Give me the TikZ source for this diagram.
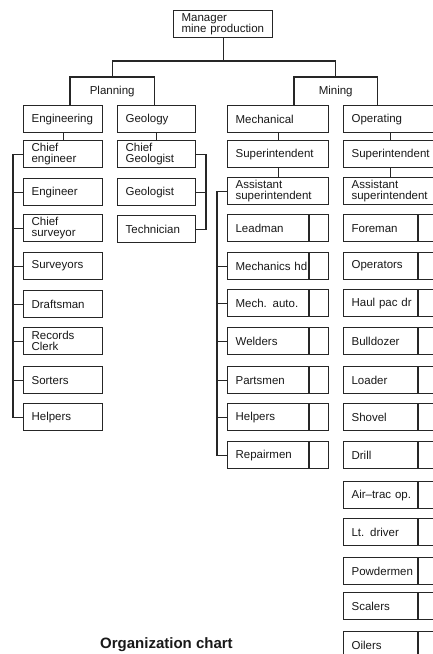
\documentclass[tikz,border=0pt]{standalone}
\usepackage{fontspec}
\setmainfont{Liberation Sans}
\begin{document}
\begin{tikzpicture}[x=1pt,y=-1pt,
  ink/.style={draw=black!85, line width=1.2pt, line join=miter},
  lbl/.style={font=\fontsize{11.5}{11}\selectfont, text=black!90},
  ebox/.style={ink, lbl, anchor=north west, minimum height=27pt, inner xsep=8pt, inner ysep=0pt, text width=#1, align=left},
  caption/.style={font=\fontsize{15}{18}\selectfont\bfseries, text=black!90, anchor=base west, inner sep=0pt}
]
\useasboundingbox (0,0) rectangle (433,654);
\fill[white] (0,0) rectangle (433,654);
\clip (0,0) rectangle (433,654);

% top
\node[ebox=83pt] (mgr) at (173,10) {Manager\\mine production};
\node[lbl, anchor=north west, minimum width=84pt, minimum height=28pt, inner sep=0pt] (plan) at (70,77) {Planning};
\node[lbl, anchor=north west, minimum width=83pt, minimum height=28pt, inner sep=0pt] (mine) at (294,77) {Mining};
\draw[ink] (plan.south west) -- (plan.north west) -- (plan.north east) -- (plan.south east);
\draw[ink] (mine.south west) -- (mine.north west) -- (mine.north east) -- (mine.south east);
\coordinate (hb) at (0,61);
\draw[ink] (mgr.south) -- (mgr.south |- hb);
\draw[ink] (plan.north) -- (plan.north |- hb) -- (mine.north |- hb) -- (mine.north);

% Engineering column
\node[ebox=63pt] (eng) at (23,105) {Engineering};
\node[ebox=63pt] (ce) at (23,140) {Chief\\engineer};
\node[ebox=63pt] (en) at (23,178) {Engineer};
\node[ebox=63pt] (cs) at (23,214) {Chief\\surveyor};
\node[ebox=63pt] (sv) at (23,252) {Surveyors};
\node[ebox=63pt] (dr) at (23,290) {Draftsman};
\node[ebox=63pt] (rc) at (23,327) {Records\\Clerk};
\node[ebox=63pt] (so) at (23,366) {Sorters};
\node[ebox=63pt] (hp) at (23,403) {Helpers};

% Geology column
\node[ebox=62pt] (geo) at (117,105) {Geology};
\node[ebox=62pt] (cg) at (117,140) {Chief\\Geologist};
\node[ebox=62pt] (gl) at (117,178) {Geologist};
\node[ebox=62pt] (te) at (117,215) {Technician};

% Mechanical column
\node[ebox=85pt] (mech) at (227,105) {Mechanical};
\node[ebox=85pt] (msup) at (227,140) {Superintendent};
\node[ebox=85pt] (mass) at (227,177) {Assistant\\superintendent};
\node[ebox=85pt] (lead) at (227,214) {Leadman};
\node[ebox=85pt] (mhd) at (227,252) {Mechanics hd};
\node[ebox=85pt] (mau) at (227,289) {Mech. auto.};
\node[ebox=85pt] (wel) at (227,327) {Welders};
\node[ebox=85pt] (par) at (227,366) {Partsmen};
\node[ebox=85pt] (mhp) at (227,403) {Helpers};
\node[ebox=85pt] (rep) at (227,441) {Repairmen};
\foreach \n in {lead,mhd,mau,wel,par,mhp,rep}
  \draw[ink] ([xshift=82pt]\n.north west) -- ([xshift=82pt]\n.south west);

% Operating column
\node[ebox=78pt] (op) at (343,105) {Operating};
\node[ebox=78pt] (osup) at (343,140) {Superintendent};
\node[ebox=78pt] (oass) at (343,177) {Assistant\\superintendent};
\node[ebox=78pt] (fore) at (343,214) {Foreman};
\node[ebox=78pt] (opr) at (343,252) {Operators};
\node[ebox=78pt] (haul) at (343,289) {Haul pac dr};
\node[ebox=78pt] (bull) at (343,327) {Bulldozer};
\node[ebox=78pt] (load) at (343,366) {Loader};
\node[ebox=78pt] (shov) at (343,403) {Shovel};
\node[ebox=78pt] (dril) at (343,441) {Drill};
\node[ebox=78pt] (air) at (343,481) {Air--trac op.};
\node[ebox=78pt] (ltd) at (343,518) {Lt. driver};
\node[ebox=78pt] (pow) at (343,557) {Powdermen};
\node[ebox=78pt] (sca) at (343,592) {Scalers};
\node[ebox=78pt] (oil) at (343,631) {Oilers};
\foreach \n in {fore,opr,haul,bull,load,shov,dril,air,ltd,pow,sca,oil}
  \draw[ink] ([xshift=75pt]\n.north west) -- ([xshift=75pt]\n.south west);

% vertical links
\draw[ink] (eng.south) -- (ce.north);
\draw[ink] (geo.south) -- (cg.north);
\draw[ink] (mech.south) -- (msup.north);
\draw[ink] (msup.south) -- (mass.north);
\draw[ink] (op.south) -- (osup.north);
\draw[ink] (osup.south) -- (oass.north);

% brackets
\coordinate (bE) at (13,0);
\draw[ink] (ce.west) -- (ce.west -| bE) -- (hp.west -| bE) -- (hp.west);
\foreach \n in {en,cs,sv,dr,rc,so}
  \draw[ink] (\n.west) -- (\n.west -| bE);
\coordinate (bG) at (206,0);
\draw[ink] (cg.east) -- (cg.east -| bG) -- (te.east -| bG) -- (te.east);
\draw[ink] (gl.east) -- (gl.east -| bG);
\coordinate (bM) at (217,0);
\draw[ink] (mass.west) -- (mass.west -| bM) -- (rep.west -| bM) -- (rep.west);
\foreach \n in {mhd,mau,wel,par,mhp}
  \draw[ink] (\n.west) -- (\n.west -| bM);

% caption
\node[caption] (cap) at (100,648) {Organization chart};
\end{tikzpicture}
\end{document}
